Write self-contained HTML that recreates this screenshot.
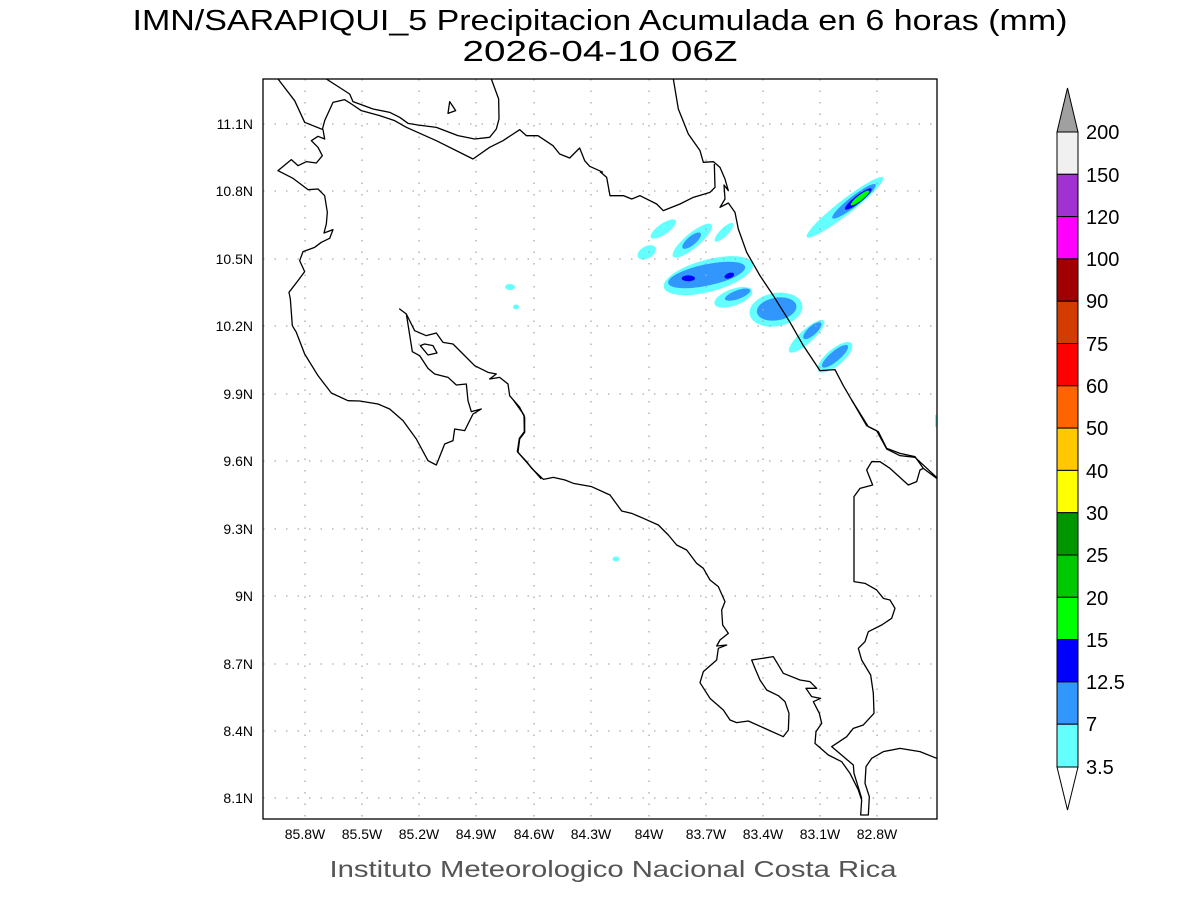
<!DOCTYPE html>
<html><head><meta charset="utf-8"><style>
html,body{margin:0;padding:0;background:#fff;}
svg{display:block;}
text{font-family:"Liberation Sans",sans-serif;}
</style></head><body>
<svg width="1200" height="900" viewBox="0 0 1200 900" xmlns="http://www.w3.org/2000/svg">
<rect width="1200" height="900" fill="#fff"/>
<text x="600" y="30" font-size="29" text-anchor="middle" textLength="935" lengthAdjust="spacingAndGlyphs" fill="#000">IMN/SARAPIQUI_5 Precipitacion Acumulada en 6 horas (mm)</text>
<text x="600" y="61" font-size="29" text-anchor="middle" textLength="275" lengthAdjust="spacingAndGlyphs" fill="#000">2026-04-10 06Z</text>

<defs><clipPath id="c"><rect x="263" y="79" width="674" height="740"/></clipPath></defs>
<g clip-path="url(#c)">
<!-- precipitation -->
<g transform="translate(600,79) scale(0.3333)">
 <g fill="#64ffff">
  <ellipse cx="735" cy="385" rx="145" ry="22" transform="rotate(-38 735 385)"/>
  <ellipse cx="190" cy="450" rx="45" ry="16" transform="rotate(-35 190 450)"/>
  <ellipse cx="140" cy="520" rx="30" ry="18" transform="rotate(-30 140 520)"/>
  <ellipse cx="277" cy="485" rx="75" ry="22" transform="rotate(-40 277 485)"/>
  <ellipse cx="372" cy="460" rx="38" ry="12" transform="rotate(-45 372 460)"/>
  <ellipse cx="325" cy="590" rx="138" ry="48" transform="rotate(-15 325 590)"/>
  <ellipse cx="400" cy="655" rx="60" ry="25" transform="rotate(-20 400 655)"/>
  <ellipse cx="528" cy="692" rx="80" ry="50" transform="rotate(-10 528 692)"/>
  <ellipse cx="620" cy="772" rx="70" ry="20" transform="rotate(-42 620 772)"/>
  <ellipse cx="705" cy="835" rx="65" ry="25" transform="rotate(-40 705 835)"/>
 </g>
 <g fill="#3296ff">
  <ellipse cx="762" cy="367" rx="82" ry="15" transform="rotate(-38 762 367)"/>
  <ellipse cx="275" cy="485" rx="35" ry="13" transform="rotate(-40 275 485)"/>
  <ellipse cx="320" cy="588" rx="118" ry="32" transform="rotate(-12 320 588)"/>
  <ellipse cx="413" cy="647" rx="40" ry="13" transform="rotate(-20 413 647)"/>
  <ellipse cx="530" cy="690" rx="60" ry="34" transform="rotate(-10 530 690)"/>
  <ellipse cx="637" cy="755" rx="35" ry="13" transform="rotate(-42 637 755)"/>
  <ellipse cx="705" cy="832" rx="50" ry="15" transform="rotate(-40 705 832)"/>
 </g>
 <g fill="#0000ff">
  <ellipse cx="775" cy="360" rx="50" ry="11" transform="rotate(-38 775 360)"/>
  <ellipse cx="265" cy="598" rx="20" ry="9"/>
  <ellipse cx="388" cy="590" rx="15" ry="8" transform="rotate(-20 388 590)"/>
 </g>
 <ellipse cx="780" cy="357" rx="35" ry="8" fill="#00ff00" transform="rotate(-38 780 357)"/>
</g>
<g fill="#64ffff">
 <ellipse cx="510" cy="287" rx="5" ry="3"/>
 <ellipse cx="516" cy="307" rx="3" ry="2.5"/>
 <ellipse cx="616" cy="559" rx="3.5" ry="2.5"/>
 <rect x="935" y="415" width="2" height="12"/>
</g>
<!-- grid -->
<g stroke="#aaa" stroke-width="1.3" stroke-dasharray="1.5 10">
 <line x1="305" y1="79" x2="305" y2="819"/><line x1="362" y1="79" x2="362" y2="819"/>
 <line x1="419" y1="79" x2="419" y2="819"/><line x1="476" y1="79" x2="476" y2="819"/>
 <line x1="534" y1="79" x2="534" y2="819"/><line x1="591" y1="79" x2="591" y2="819"/>
 <line x1="649" y1="79" x2="649" y2="819"/><line x1="706" y1="79" x2="706" y2="819"/>
 <line x1="763" y1="79" x2="763" y2="819"/><line x1="820" y1="79" x2="820" y2="819"/>
 <line x1="877" y1="79" x2="877" y2="819"/>
 <line x1="263" y1="124" x2="937" y2="124"/><line x1="263" y1="191" x2="937" y2="191"/>
 <line x1="263" y1="259" x2="937" y2="259"/><line x1="263" y1="326" x2="937" y2="326"/>
 <line x1="263" y1="394" x2="937" y2="394"/><line x1="263" y1="461" x2="937" y2="461"/>
 <line x1="263" y1="529" x2="937" y2="529"/><line x1="263" y1="596" x2="937" y2="596"/>
 <line x1="263" y1="664" x2="937" y2="664"/><line x1="263" y1="731" x2="937" y2="731"/>
 <line x1="263" y1="798" x2="937" y2="798"/>
</g>
<!-- coast -->
<g fill="none" stroke="#000" stroke-width="1.3" stroke-linejoin="round">
<g transform="translate(263,79) scale(0.33333)">
<path vector-effect="non-scaling-stroke" d="M45,0 L95,65 L125,130 L180,152 L185,180 L165,172 L145,185 L165,205 L178,230 L160,252 L130,248 L105,260 L85,242 L45,275 L90,298 L135,332 L165,330 L185,350 L193,400 L190,435 L183,462 L210,452 L200,478 L175,490 L155,505 L120,518 L110,545 L125,578 L105,605 L78,640 L82,660 L88,740 L100,760 L125,825 L165,890 L205,942 L255,965 L290,966 L345,975 L380,990 L420,1025 L460,1080 L495,1145 L520,1158 L545,1095 L570,1085 L575,1050 L605,1055 L630,1005 L655,990 L625,998 L615,965 L610,915 L580,918 L555,895 L515,885 L495,868 L470,830 L448,818 L430,705 L410,690 L430,705 L455,755 L490,770 L520,762 L540,790 L570,795 L600,825 L635,860 L675,880 L700,885 L680,900 L710,895 L735,915 L740,950 L770,985 L785,1015 L785,1060 L770,1080 L765,1120 L800,1160 L835,1200"/>
<path vector-effect="non-scaling-stroke" d="M472,800 L485,795 L510,800 L522,822 L495,828 Z"/>
<path vector-effect="non-scaling-stroke" d="M555,103 L560,68 L578,95 Z"/>
<path vector-effect="non-scaling-stroke" d="M190,0 L260,45 L270,68 L330,90 L380,100 L410,115 L435,133 L465,138 L520,145 L585,170 L635,180 L680,175 L700,150 L708,120 L707,60 L685,0"/>
<path vector-effect="non-scaling-stroke" d="M178,152 L185,125 L210,70 L245,62 L270,78 L295,95 L350,110 L395,125 L430,145 L520,185 L630,240 L680,205 L720,185 L770,152 L790,170 L825,170 L870,200 L890,225 L920,237 L950,207 L965,245 L980,262 L1020,280"/>
</g>
<g transform="translate(600,79) scale(0.33333)">
<path vector-effect="non-scaling-stroke" d="M220,0 L235,90 L265,165 L300,215 L310,250 L340,248 L360,265 L375,300 L385,335 L372,318 L375,360 L360,385 L385,372 L405,400 L415,450 L440,520 L480,590 L520,650 L570,730 L610,800 L660,875 L705,872 L730,920 L800,1040 L830,1055 L860,1110 L900,1130 L945,1135 L1015,1200"/>
<path vector-effect="non-scaling-stroke" d="M343,255 L345,325 L330,340 L280,355 L240,375 L190,395 L170,375 L120,350 L95,360 L70,350 L30,350 L20,295 L0,278"/>
</g>
<g transform="translate(500,400) scale(0.33333)">
<path vector-effect="non-scaling-stroke" d="M40,0 L72,45 L73,95 L58,115 L52,155 L80,185 L95,205 L130,238 L160,232 L195,240 L220,250 L275,260 L330,285 L365,333 L395,340 L430,355 L475,375 L505,405 L530,435 L560,450 L590,490 L610,505 L630,540 L655,560 L675,605 L665,630 L668,675 L685,700 L660,720 L650,738 L680,735 L655,745 L650,780 L610,815 L600,848 L630,895 L670,930 L690,960 L710,968 L745,963 L850,1010 L865,990 L867,940 L855,905 L835,887 L800,870 L780,840 L765,805 L755,780 L820,770 L850,820 L900,840 L930,845 L950,865 L918,865 L935,890 L962,895 L940,905 L958,940 L965,970 L948,995 L945,1030 L985,1065 L1025,1085 L1050,1120 L1075,1170 L1085,1200 L1082,1245 L1105,1245 L1108,1190 L1095,1150 L1098,1100 L1115,1075 L1150,1055 L1200,1045 L1260,1055 L1310,1075"/>
<path vector-effect="non-scaling-stroke" d="M1055,0 L1105,80 L1135,95 L1160,145 L1200,160 L1245,170 L1270,205 L1310,235"/>
<path vector-effect="non-scaling-stroke" d="M1270,205 L1260,210 L1250,245 L1225,255 L1170,205 L1140,185 L1115,185 L1100,210 L1118,255 L1080,265 L1062,290 L1062,545 L1095,550 L1130,570 L1150,595 L1170,600 L1185,625 L1175,655 L1145,675 L1105,695 L1095,725 L1075,745 L1085,780 L1112,825 L1120,880 L1122,940 L1090,975 L1060,985 L1040,1010 L995,1040 L1060,1095 L1062,1120 L1085,1195"/>
</g>
</g>
</g>
<rect x="263" y="79" width="674" height="740" fill="none" stroke="#000" stroke-width="1.3"/>

<!-- tick labels -->
<g font-size="14" fill="#000" text-anchor="middle">
 <text x="305" y="839">85.8W</text><text x="362" y="839">85.5W</text><text x="419" y="839">85.2W</text>
 <text x="476" y="839">84.9W</text><text x="534" y="839">84.6W</text><text x="591" y="839">84.3W</text>
 <text x="649" y="839">84W</text><text x="706" y="839">83.7W</text><text x="763" y="839">83.4W</text>
 <text x="820" y="839">83.1W</text><text x="877" y="839">82.8W</text>
</g>
<g font-size="14" fill="#000" text-anchor="end">
 <text x="253" y="129">11.1N</text><text x="253" y="196">10.8N</text><text x="253" y="264">10.5N</text>
 <text x="253" y="331">10.2N</text><text x="253" y="399">9.9N</text><text x="253" y="466">9.6N</text>
 <text x="253" y="534">9.3N</text><text x="253" y="601">9N</text><text x="253" y="669">8.7N</text>
 <text x="253" y="736">8.4N</text><text x="253" y="803">8.1N</text>
</g>
<text x="613" y="877" font-size="23" text-anchor="middle" fill="#555" textLength="567" lengthAdjust="spacingAndGlyphs">Instituto Meteorologico Nacional Costa Rica</text>

<!-- colorbar -->
<g stroke="#000" stroke-width="1">
 <polygon points="1057,132 1078,132 1067.5,88" fill="#a0a0a0"/>
 <rect x="1057" y="132" width="21" height="42.3" fill="#f0f0f0"/>
 <rect x="1057" y="174.3" width="21" height="42.3" fill="#a032d2"/>
 <rect x="1057" y="216.6" width="21" height="42.3" fill="#ff00ff"/>
 <rect x="1057" y="258.9" width="21" height="42.3" fill="#a00000"/>
 <rect x="1057" y="301.2" width="21" height="42.3" fill="#d23c00"/>
 <rect x="1057" y="343.5" width="21" height="42.3" fill="#ff0000"/>
 <rect x="1057" y="385.8" width="21" height="42.3" fill="#ff6400"/>
 <rect x="1057" y="428.1" width="21" height="42.3" fill="#ffc800"/>
 <rect x="1057" y="470.4" width="21" height="42.3" fill="#ffff00"/>
 <rect x="1057" y="512.7" width="21" height="42.3" fill="#009600"/>
 <rect x="1057" y="555" width="21" height="42.3" fill="#00c800"/>
 <rect x="1057" y="597.3" width="21" height="42.3" fill="#00ff00"/>
 <rect x="1057" y="639.6" width="21" height="42.3" fill="#0000ff"/>
 <rect x="1057" y="681.9" width="21" height="42.3" fill="#3296ff"/>
 <rect x="1057" y="724.2" width="21" height="42.8" fill="#64ffff"/>
 <polygon points="1057,767 1078,767 1067.5,810" fill="#fff"/>
</g>
<g font-size="20" fill="#000">
 <text x="1086" y="139">200</text><text x="1086" y="182">150</text><text x="1086" y="224">120</text>
 <text x="1086" y="266">100</text><text x="1086" y="308">90</text><text x="1086" y="351">75</text>
 <text x="1086" y="393">60</text><text x="1086" y="435">50</text><text x="1086" y="478">40</text>
 <text x="1086" y="520">30</text><text x="1086" y="562">25</text><text x="1086" y="605">20</text>
 <text x="1086" y="647">15</text><text x="1086" y="689">12.5</text><text x="1086" y="731">7</text>
 <text x="1086" y="774">3.5</text>
</g>
</svg>
</body></html>
